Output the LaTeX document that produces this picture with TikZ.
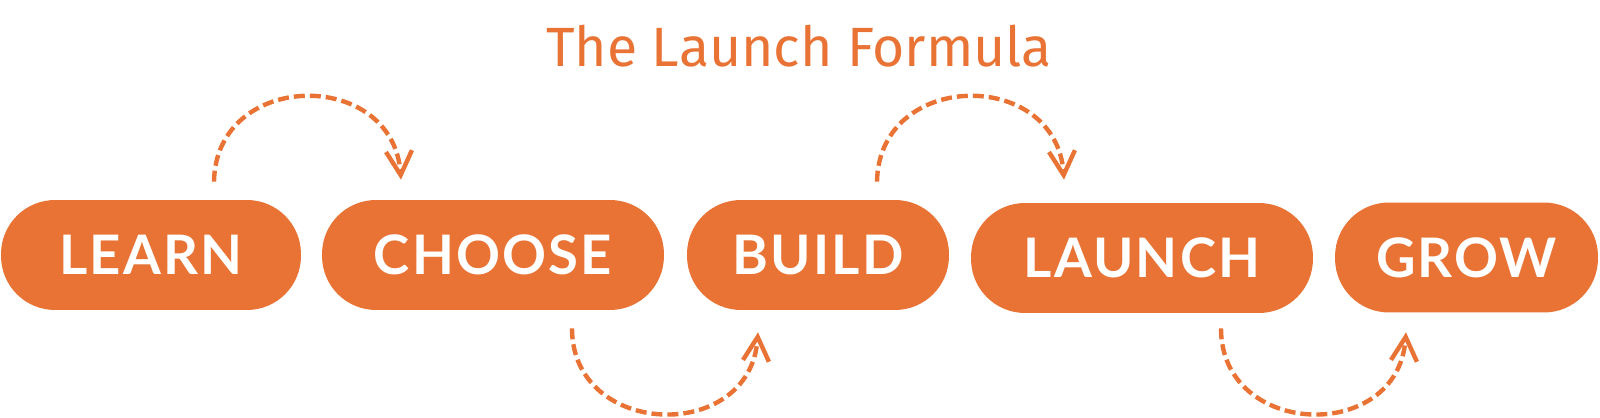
\documentclass[tikz,border=0pt]{standalone}
\usepackage{fontspec}
\usetikzlibrary{arrows.meta,calc}
\newfontfamily\titlefont{Fira Sans}
\newfontfamily\pillfont[LetterSpace=4]{Lato}
\definecolor{launchorange}{RGB}{233,115,52}
\begin{document}
\begin{tikzpicture}[x=0.02cm, y=-0.02cm, line join=round,
    pill/.style={fill=launchorange, text=white, rounded corners=1.08cm, inner sep=0pt,
        minimum height=2.2cm, font=\pillfont\bfseries\fontsize{31}{36}\selectfont},
    hop/.style={draw=launchorange, line width=0.088cm, dash pattern=on 0.22cm off 0.1cm,
        -{Straight Barb[length=0.48cm, width=0.52cm]}}]
    \useasboundingbox (0,0) rectangle (1600,418);
    \node[anchor=base, text=launchorange, font=\titlefont\fontsize{31.5}{36}\selectfont] (title) at (799,67) {The Launch Formula};
    % the five steps
    \node[pill, minimum width=6cm]    (learn)  at (151,255)    {LEARN};
    \node[pill, minimum width=6.84cm] (choose) at (493,255)    {CHOOSE};
    \node[pill, minimum width=5.24cm] (build)  at (818,255)    {BUILD};
    \node[pill, minimum width=6.84cm] (launch) at (1142,258)   {LAUNCH};
    \node[pill, minimum width=5.26cm] (grow)   at (1466.5,257.5) {GROW};
    % hops over and under
    \draw[hop] ($(learn.north)+(63,-18)$) .. controls +(2,-112) and +(-8,-112) .. ($(choose.north)+(-92,-20)$);
    \draw[hop] ($(choose.south)+(79,18)$) .. controls +(0,110) and +(-8,112) .. ($(build.south)+(-60,22)$);
    \draw[hop] ($(build.north)+(59,-18)$) .. controls +(2,-112) and +(-8,-112) .. ($(launch.north)+(-78,-23)$);
    \draw[hop] ($(launch.south)+(79,15)$) .. controls +(0,110) and +(-8,112) .. ($(grow.south)+(-60.5,19.5)$);
\end{tikzpicture}
\end{document}
